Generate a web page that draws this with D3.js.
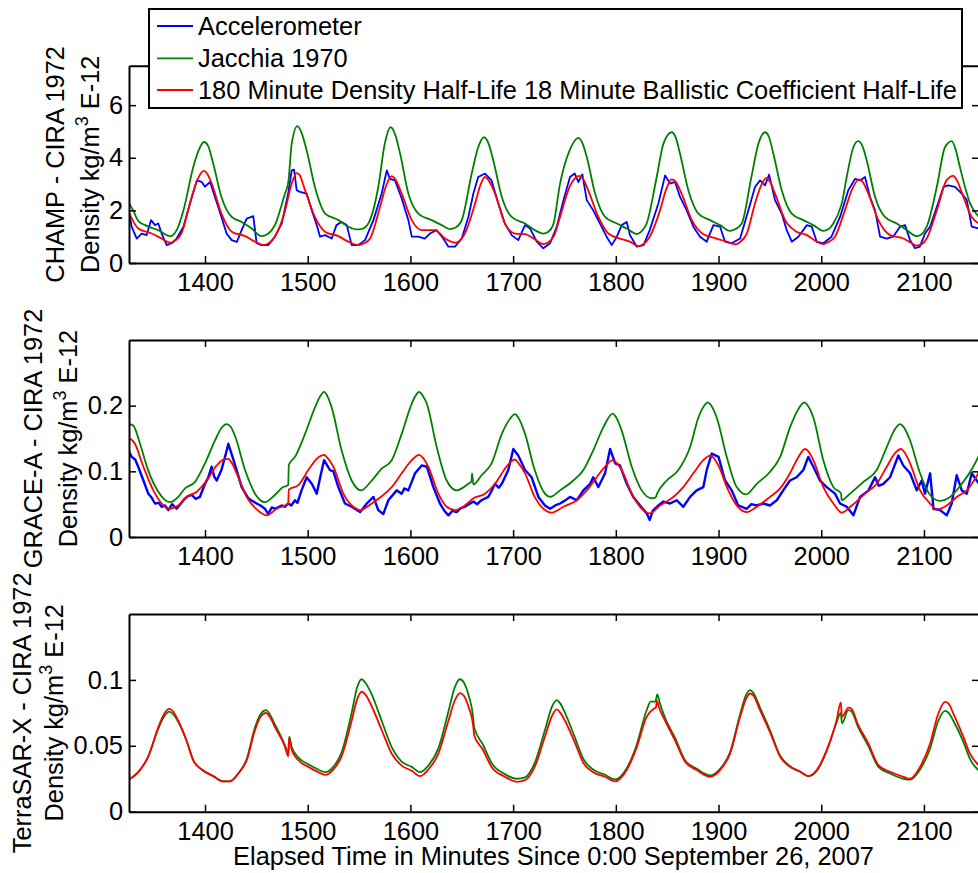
<!DOCTYPE html>
<html><head><meta charset="utf-8">
<script src="https://cdn.jsdelivr.net/npm/d3@7"></script>
<style>
html,body{margin:0;padding:0;background:#fff;}
svg{display:block;}
text{font-family:"Liberation Sans",Arial,Helvetica,sans-serif;fill:#000;}
</style></head>
<body><svg id="chart" width="978" height="873"></svg>
<script>
// ---------------- DATA ----------------
const xTicks = [1400,1500,1600,1700,1800,1900,2000,2100];
const seriesNames = ["Accelerometer","Jacchia 1970","180 Minute Density Half-Life 18 Minute Ballistic Coefficient Half-Life"];
const panelTitles = ["CHAMP - CIRA 1972","GRACE-A - CIRA 1972","TerraSAR-X - CIRA 1972"];
const yTicks1 = [0,2,4,6];
const yTicks2 = [0,0.1,0.2];
const yTicks3 = [0,0.05,0.1];
const yTickLabels1 = ["0","2","4","6"];
const yTickLabels2 = ["0","0.1","0.2"];
const yTickLabels3 = ["0","0.05","0.1"];
const xLabel = "Elapsed Time in Minutes Since 0:00 September 26, 2007";

const champAccel = [[1326,1.95],[1328.6,1.38],[1333.5,0.93],[1338.3,1.12],[1343.2,1.06],[1347.5,1.63],[1351.3,1.44],[1354.5,1.5],[1357.8,1.12],[1362.7,0.68],[1367.5,0.75],[1372.4,0.93],[1379,1.38],[1385.4,2.26],[1392,3.14],[1396.8,3.08],[1400,2.9],[1404.9,3.08],[1409.7,2.51],[1416,1.75],[1421,1.12],[1426,0.87],[1431,0.8],[1435.7,1.25],[1440.6,1.69],[1447,1.78],[1450.3,0.75],[1455,0.68],[1461.6,0.68],[1468,1.0],[1474.7,1.5],[1481,2.64],[1484.4,3.52],[1486.7,3.55],[1489.3,2.77],[1492.5,2.7],[1499,2.64],[1504,2.0],[1508.8,1.44],[1512,1.0],[1517,1.06],[1523.4,0.93],[1528,1.44],[1533,1.56],[1538,1.44],[1542.8,0.68],[1549,0.68],[1555.8,0.87],[1564,1.63],[1572,2.64],[1577,3.52],[1580,3.2],[1585,3.14],[1591.5,2.45],[1598,1.63],[1601.3,1.0],[1607.7,1.0],[1614,0.93],[1619,1.12],[1625.6,1.25],[1632,0.93],[1637,0.62],[1643.4,0.62],[1650,0.93],[1656.4,1.75],[1661.3,2.64],[1666,3.27],[1672.6,3.4],[1679,3.14],[1685.6,2.26],[1692,1.5],[1698.6,1.06],[1705,0.87],[1711.6,1.44],[1716.5,1.31],[1723,0.81],[1729.4,0.56],[1736,0.75],[1742.5,1.38],[1749,2.39],[1755.4,3.27],[1760,3.4],[1763.5,3.08],[1767.4,3.37],[1771.7,2.39],[1778,2.0],[1784.6,1.5],[1791,1.0],[1796,0.68],[1801,1.0],[1805.7,1.44],[1810.6,1.56],[1813.8,1.06],[1820.4,0.62],[1827,0.68],[1833,1.25],[1841.4,2.26],[1848,3.33],[1852.8,3.02],[1857.7,3.08],[1862.5,2.51],[1869,2.0],[1875.5,1.38],[1882,1.0],[1888.5,0.81],[1895,1.44],[1901.5,1.38],[1906.3,0.81],[1912.8,0.75],[1921,0.93],[1929,2.0],[1935.5,2.89],[1940.4,3.14],[1945.3,2.95],[1949.2,3.36],[1955,2.39],[1961.5,1.88],[1966.4,1.25],[1971.3,0.81],[1977.8,1.0],[1986,1.44],[1990.8,1.38],[1995.6,0.81],[2002,0.75],[2010,1.0],[2018.3,1.75],[2026.4,2.77],[2033,3.2],[2037.8,3.14],[2042.6,3.27],[2047.5,2.51],[2052.4,2.0],[2057.3,1.0],[2063.8,0.93],[2070,1.0],[2076.7,1.38],[2081.6,1.44],[2086.5,0.87],[2091.3,0.56],[2096,0.62],[2101,1.12],[2106,1.38],[2112.5,2.13],[2119,2.89],[2123.7,2.95],[2130.3,2.89],[2136.8,2.64],[2141.7,2.39],[2146.5,1.38],[2153.6,1.31]];

const champJ70 = [[1325,2.35],[1330,2.0],[1335,1.6],[1341.6,1.44],[1354.5,1.25],[1366,1.02],[1373,1.3],[1379,2.0],[1388.6,3.65],[1394,4.3],[1399,4.6],[1403,4.45],[1408,3.78],[1416,2.51],[1426,1.75],[1435.7,1.56],[1445.5,1.31],[1455,1.02],[1461,1.1],[1468,1.44],[1478,2.65],[1480.5,2.95],[1481.2,3.1],[1484.4,4.53],[1490,5.2],[1494,4.95],[1499,4.28],[1507,2.89],[1517,1.88],[1530,1.63],[1539.5,1.38],[1547.7,1.28],[1553,1.3],[1559,1.5],[1568.7,2.89],[1575,4.53],[1580.8,5.16],[1585,4.9],[1590,4.15],[1598,2.64],[1607.7,1.88],[1620.7,1.63],[1630.5,1.44],[1638.5,1.29],[1644,1.35],[1650,1.63],[1659.7,3.4],[1666,4.4],[1671.7,4.78],[1676,4.55],[1680.7,3.9],[1689,2.51],[1698.6,1.75],[1711.6,1.5],[1721,1.25],[1729.4,1.12],[1734,1.18],[1739,1.45],[1745.7,3.02],[1755,4.28],[1763.5,4.76],[1767,4.6],[1771.7,4.03],[1779.8,2.64],[1789.5,1.75],[1801,1.5],[1810.6,1.31],[1820.4,1.1],[1825,1.2],[1830,1.5],[1839.8,3.27],[1846.3,4.53],[1854.4,4.97],[1858,4.8],[1862.5,4.15],[1870.6,2.77],[1880.4,1.88],[1891.7,1.63],[1901.5,1.44],[1911,1.22],[1916,1.28],[1922.6,1.5],[1932,3.27],[1938.8,4.53],[1945.3,4.97],[1949,4.8],[1953.4,4.15],[1961.5,2.77],[1971.3,1.88],[1982.6,1.63],[1992.3,1.44],[2002,1.22],[2007,1.28],[2011.8,1.5],[2019.5,2.2],[2020.2,2.3],[2024.8,3.27],[2031.3,4.4],[2036,4.63],[2040,4.45],[2044.3,3.9],[2052.4,2.51],[2062,1.75],[2073.5,1.5],[2083.2,1.25],[2093,1.02],[2098,1.1],[2102.7,1.38],[2112.5,2.89],[2120.5,4.4],[2127,4.63],[2131,4.3],[2135,3.65],[2145,2.26],[2153.6,1.75]];

const champModel = [[1325,2.0],[1335,1.31],[1348,1.12],[1357.8,0.93],[1366,0.77],[1371,0.85],[1377,1.12],[1387,2.51],[1393,3.2],[1399,3.5],[1402,3.4],[1406.5,3.02],[1416,1.88],[1426,1.19],[1439,1.02],[1448.7,0.81],[1456.8,0.68],[1462,0.75],[1468,1.0],[1478,2.0],[1484.4,3.02],[1489.3,3.42],[1492,3.35],[1497.4,2.77],[1507,1.75],[1516.8,1.19],[1529.8,1.02],[1539.5,0.81],[1549.3,0.68],[1555,0.75],[1560.7,0.93],[1570.4,2.13],[1576,2.9],[1581.8,3.3],[1585,3.2],[1591.5,2.64],[1601.3,1.63],[1611,1.25],[1624,1.25],[1633.7,0.93],[1643.4,0.77],[1648,0.85],[1653,1.12],[1663,2.26],[1668,2.95],[1672.6,3.27],[1676,3.15],[1682.4,2.64],[1692,1.5],[1701.8,1.12],[1711.6,1.1],[1721,0.9],[1729.4,0.72],[1734,0.78],[1740,1.05],[1745.7,1.75],[1755,2.89],[1764.3,3.31],[1768,3.2],[1773,2.77],[1783,1.75],[1792.7,1.12],[1804,0.93],[1813.8,0.81],[1822,0.64],[1827,0.72],[1833,1.0],[1843,2.0],[1849,2.8],[1854.4,3.18],[1858,3.1],[1864,2.64],[1874,1.63],[1885,1.1],[1898,0.93],[1908,0.81],[1916,0.71],[1921,0.8],[1927.5,1.12],[1935.5,2.26],[1941,2.9],[1946.3,3.23],[1950,3.1],[1955,2.64],[1964.8,1.63],[1976,1.19],[1986,1.06],[1995.6,0.81],[2002,0.72],[2007,0.8],[2013.4,1.0],[2023,2.0],[2030,2.8],[2037,3.18],[2040,3.1],[2045.8,2.64],[2055.6,1.63],[2067,1.06],[2080,0.93],[2088,0.75],[2093,0.66],[2098,0.72],[2102.7,0.93],[2112.5,2.0],[2122,3.14],[2128.6,3.31],[2132,3.15],[2138.4,2.51],[2146.5,1.75],[2153.6,1.5]];

const graceAccel = [[1326,0.13],[1328.6,0.122],[1332,0.118],[1335,0.107],[1340,0.086],[1344.8,0.066],[1348,0.06],[1351.3,0.051],[1355,0.052],[1357.8,0.046],[1361,0.048],[1364.3,0.041],[1368,0.05],[1372.4,0.043],[1379,0.056],[1383,0.062],[1387,0.064],[1391,0.058],[1395,0.061],[1400,0.081],[1403,0.09],[1406.5,0.107],[1409,0.092],[1411.4,0.086],[1416,0.102],[1420,0.125],[1422.7,0.142],[1426,0.126],[1430.8,0.102],[1435.7,0.076],[1442.2,0.059],[1446,0.055],[1450.3,0.051],[1454,0.048],[1458.4,0.043],[1461.6,0.035],[1465,0.045],[1468,0.043],[1474.7,0.048],[1478,0.046],[1481,0.051],[1484,0.048],[1487.6,0.056],[1490,0.052],[1494,0.071],[1499,0.091],[1504,0.081],[1508.8,0.066],[1512,0.09],[1515.9,0.117],[1521.7,0.102],[1525,0.1],[1529.8,0.076],[1536.3,0.051],[1542.8,0.046],[1547,0.042],[1551,0.038],[1557.5,0.051],[1564,0.061],[1568.7,0.041],[1573.6,0.035],[1578.5,0.056],[1586.6,0.071],[1591.5,0.066],[1594,0.074],[1598,0.071],[1604.5,0.097],[1611,0.109],[1616,0.107],[1622.3,0.076],[1628.8,0.051],[1633,0.04],[1637,0.033],[1641,0.04],[1645,0.038],[1649,0.044],[1653,0.046],[1657,0.05],[1661.3,0.054],[1665,0.05],[1669.2,0.056],[1675.8,0.061],[1679,0.07],[1682.4,0.081],[1686,0.075],[1689,0.081],[1695.3,0.102],[1700.2,0.134],[1705,0.124],[1711.6,0.102],[1718,0.091],[1724.6,0.061],[1731,0.048],[1736,0.043],[1741,0.048],[1745.7,0.051],[1750,0.055],[1755.4,0.061],[1762,0.056],[1768.4,0.071],[1775,0.081],[1778,0.091],[1783,0.076],[1789.5,0.097],[1794.4,0.134],[1799.4,0.112],[1804,0.109],[1810.6,0.081],[1817,0.061],[1823.6,0.048],[1830,0.036],[1833,0.026],[1836,0.04],[1840,0.046],[1846.3,0.054],[1852.8,0.051],[1859.3,0.056],[1865.7,0.046],[1872.3,0.061],[1878.7,0.071],[1885.2,0.076],[1888.5,0.102],[1893.4,0.127],[1900,0.122],[1906.3,0.086],[1912.8,0.071],[1919.2,0.048],[1927.5,0.043],[1932,0.05],[1937.2,0.048],[1943.6,0.051],[1950,0.048],[1956.7,0.056],[1963,0.071],[1969.6,0.086],[1976,0.091],[1982.6,0.102],[1987.4,0.122],[1992.3,0.107],[1998.8,0.086],[2005.3,0.076],[2013.4,0.066],[2018.3,0.051],[2024.8,0.046],[2031.3,0.033],[2037.8,0.061],[2046,0.071],[2052.4,0.091],[2056,0.078],[2060.5,0.081],[2067,0.091],[2075,0.124],[2079.9,0.109],[2086.5,0.097],[2093,0.071],[2097.8,0.086],[2101,0.066],[2106,0.097],[2109.3,0.043],[2115.7,0.041],[2122.2,0.033],[2127,0.051],[2131.9,0.094],[2136.8,0.071],[2141.7,0.066],[2146.5,0.097],[2153.6,0.081]];

const graceJ70 = [[1325,0.172],[1330,0.17],[1336.7,0.142],[1344.8,0.101],[1354.5,0.069],[1366,0.053],[1374,0.061],[1380.5,0.074],[1390.3,0.084],[1400,0.112],[1409.7,0.147],[1416,0.166],[1421,0.172],[1425,0.168],[1429,0.155],[1439,0.102],[1448.7,0.066],[1458.4,0.053],[1468,0.064],[1476,0.076],[1481,0.079],[1481.6,0.11],[1487.6,0.122],[1497.4,0.157],[1507,0.197],[1512,0.214],[1515.9,0.221],[1519,0.215],[1523.4,0.197],[1533,0.132],[1542.8,0.086],[1552,0.071],[1562.3,0.086],[1572,0.104],[1581.8,0.117],[1591.5,0.157],[1601.3,0.203],[1605,0.215],[1608.4,0.221],[1612,0.215],[1616,0.203],[1625.6,0.137],[1635.3,0.086],[1645,0.071],[1656.4,0.081],[1659.5,0.085],[1660,0.097],[1661.3,0.08],[1669.2,0.094],[1679,0.112],[1689,0.157],[1697,0.18],[1701.8,0.187],[1705,0.182],[1711.6,0.157],[1721,0.102],[1731,0.066],[1736,0.061],[1745.7,0.071],[1758.6,0.086],[1768.4,0.102],[1778,0.132],[1787.8,0.167],[1797,0.188],[1800,0.183],[1805.7,0.162],[1815.5,0.107],[1825.2,0.071],[1835,0.059],[1838.5,0.06],[1840.4,0.067],[1849.6,0.086],[1860.9,0.102],[1872.3,0.137],[1880.4,0.182],[1886,0.2],[1889.5,0.205],[1893,0.2],[1898.2,0.182],[1908,0.122],[1917.7,0.076],[1926.8,0.065],[1937.2,0.081],[1950,0.099],[1960,0.122],[1969.6,0.167],[1979,0.198],[1983.5,0.205],[1987,0.2],[1992.3,0.182],[2002,0.117],[2011.8,0.076],[2019.3,0.066],[2019.9,0.056],[2028,0.066],[2041,0.084],[2054,0.102],[2063.8,0.137],[2072,0.165],[2076.7,0.172],[2080,0.168],[2086.5,0.147],[2096.2,0.097],[2106,0.064],[2115.7,0.055],[2125.4,0.061],[2138.4,0.084],[2148,0.107],[2153.6,0.124]];

const graceModel = [[1325,0.152],[1331.8,0.142],[1340,0.107],[1349.7,0.071],[1357.8,0.051],[1364.3,0.043],[1374,0.048],[1382,0.061],[1392,0.069],[1401.6,0.086],[1411.4,0.109],[1418,0.118],[1422.7,0.119],[1426,0.113],[1430.8,0.097],[1440.6,0.061],[1450.3,0.042],[1460,0.033],[1469.8,0.043],[1481,0.051],[1481.6,0.072],[1490.9,0.079],[1500.6,0.102],[1508.8,0.119],[1515.9,0.125],[1519,0.121],[1525,0.107],[1534.7,0.066],[1544.4,0.046],[1551,0.041],[1562.3,0.051],[1572,0.062],[1581.8,0.076],[1591.5,0.097],[1601.3,0.117],[1608.4,0.125],[1612,0.121],[1617.4,0.107],[1627.2,0.066],[1635.3,0.046],[1643.4,0.041],[1653,0.048],[1661.3,0.059],[1672.6,0.066],[1682.4,0.081],[1692,0.104],[1698,0.115],[1701.8,0.118],[1705,0.113],[1711.6,0.097],[1721,0.061],[1731,0.041],[1737,0.037],[1749,0.046],[1762,0.056],[1771.7,0.071],[1781.4,0.091],[1789.5,0.107],[1797,0.117],[1800,0.114],[1805.7,0.102],[1815.5,0.066],[1823.6,0.046],[1833,0.036],[1843,0.048],[1856,0.061],[1865.7,0.076],[1875.5,0.097],[1885.2,0.117],[1891.7,0.124],[1895,0.121],[1899.8,0.109],[1909.5,0.071],[1917.7,0.048],[1927.5,0.038],[1937.2,0.046],[1950,0.061],[1960,0.074],[1969.6,0.097],[1977.8,0.122],[1984.2,0.134],[1987,0.131],[1992.3,0.117],[2002,0.076],[2011.8,0.051],[2020,0.037],[2029.7,0.048],[2042.6,0.066],[2054,0.081],[2063.8,0.107],[2072,0.128],[2077.7,0.134],[2081,0.129],[2086.5,0.112],[2096.2,0.071],[2106,0.051],[2112.5,0.042],[2122.2,0.048],[2131.9,0.061],[2141.7,0.071],[2153.6,0.099]];

const terraJ70 = [[1325,0.024],[1335,0.030],[1344.8,0.042],[1354.5,0.063],[1360,0.072],[1365.2,0.076],[1369,0.074],[1374,0.068],[1382,0.054],[1388.6,0.039],[1396.8,0.032],[1408,0.027],[1417.8,0.023],[1424,0.023],[1432.4,0.029],[1440.6,0.040],[1448.7,0.064],[1454,0.074],[1459.4,0.077],[1463,0.074],[1468.2,0.066],[1478,0.050],[1481,0.044],[1482,0.057],[1484.4,0.049],[1490.9,0.041],[1500.6,0.036],[1510.3,0.032],[1517,0.030],[1524.9,0.034],[1533,0.045],[1542.8,0.075],[1548,0.094],[1552.5,0.1005],[1556,0.098],[1562.3,0.089],[1572,0.069],[1581.8,0.049],[1591.5,0.038],[1601.3,0.034],[1609.4,0.030],[1617.4,0.035],[1627.2,0.048],[1637,0.076],[1643,0.094],[1648.3,0.1005],[1652,0.098],[1656.4,0.089],[1661.3,0.070],[1662,0.064],[1670.6,0.051],[1679,0.037],[1692,0.0285],[1703.4,0.025],[1711.6,0.026],[1721,0.037],[1731,0.062],[1738,0.080],[1742.5,0.0846],[1746,0.082],[1750.5,0.075],[1760.3,0.056],[1768.4,0.040],[1778,0.032],[1789.5,0.028],[1799.2,0.0245],[1810.6,0.033],[1820.4,0.051],[1830,0.077],[1834,0.0835],[1838.5,0.0835],[1840.4,0.089],[1843,0.082],[1848,0.071],[1857.7,0.056],[1867.4,0.039],[1878.8,0.0325],[1891.7,0.0275],[1901.5,0.0325],[1911.2,0.045],[1921,0.074],[1927,0.089],[1930.7,0.0922],[1934,0.090],[1940.4,0.079],[1950,0.062],[1960,0.0425],[1969.6,0.0345],[1979.4,0.0305],[1987.4,0.027],[1995.6,0.031],[2005.3,0.046],[2015,0.068],[2019,0.075],[2020.2,0.067],[2026.4,0.077],[2029,0.0765],[2036,0.064],[2045.8,0.050],[2055.6,0.034],[2067,0.029],[2080,0.025],[2086.5,0.0243],[2096.2,0.032],[2106,0.048],[2114,0.069],[2120.5,0.0765],[2124,0.075],[2128.6,0.069],[2138.4,0.053],[2144.8,0.040],[2153.6,0.031]];

const terraModel = [[1325,0.024],[1335,0.030],[1344.8,0.042],[1354.5,0.064],[1360,0.074],[1365.2,0.078],[1369,0.076],[1374,0.069],[1382,0.054],[1388.6,0.039],[1396.8,0.032],[1408,0.027],[1417.8,0.023],[1424,0.023],[1432.4,0.029],[1440.6,0.039],[1448.7,0.062],[1454,0.072],[1459.4,0.075],[1463,0.072],[1468.2,0.064],[1478,0.049],[1481,0.042],[1482,0.056],[1484.4,0.047],[1490.9,0.039],[1500.6,0.034],[1510.3,0.030],[1517,0.028],[1524.9,0.032],[1533,0.042],[1542.8,0.069],[1548,0.085],[1552.5,0.091],[1556,0.089],[1562.3,0.080],[1572,0.062],[1581.8,0.044],[1591.5,0.035],[1601.3,0.031],[1609.4,0.027],[1617.4,0.032],[1627.2,0.044],[1637,0.069],[1643,0.084],[1648.3,0.090],[1652,0.088],[1656.4,0.080],[1661.3,0.064],[1662,0.058],[1670.6,0.047],[1679,0.034],[1692,0.0265],[1703.4,0.0227],[1711.6,0.024],[1721,0.034],[1731,0.057],[1738,0.073],[1742.5,0.0776],[1746,0.075],[1750.5,0.069],[1760.3,0.052],[1768.4,0.037],[1778,0.030],[1789.5,0.0265],[1799.2,0.023],[1810.6,0.0316],[1820.4,0.049],[1830,0.072],[1836.6,0.078],[1839,0.079],[1840,0.084],[1842,0.079],[1848,0.069],[1857.7,0.054],[1867.4,0.038],[1878.8,0.0316],[1891.7,0.0265],[1901.5,0.0316],[1911.2,0.044],[1921,0.072],[1927,0.086],[1930.7,0.0897],[1934,0.088],[1940.4,0.077],[1950,0.0606],[1960,0.0417],[1969.6,0.034],[1979.4,0.0303],[1987.4,0.027],[1995.6,0.0316],[2005.3,0.0467],[2015,0.0695],[2019,0.083],[2020.2,0.072],[2026.4,0.079],[2029,0.0785],[2036,0.0657],[2045.8,0.0518],[2055.6,0.0354],[2067,0.0303],[2080,0.0265],[2086.5,0.025],[2096.2,0.034],[2106,0.0518],[2114,0.0745],[2120.5,0.0833],[2124,0.082],[2128.6,0.0745],[2138.4,0.0568],[2144.8,0.044],[2153.6,0.035]];

// ---------------- LAYOUT ----------------
const colors = {accel:"#0000ff", j70:"#008000", model:"#ff0000"};
const FONT = 25.4;
const xLeft = 129, xRight = 979;
const panels = [
  {top:65.7, bottom:263, ymax:7.5, ticks:yTicks1, labels:yTickLabels1, title:panelTitles[0], lx1:64, lx2:99, aw:1.8,
   series:[{d:champAccel,c:colors.accel,curve:d3.curveLinear},{d:champJ70,c:colors.j70,curve:d3.curveMonotoneX},{d:champModel,c:colors.model,curve:d3.curveMonotoneX}]},
  {top:340, bottom:537, ymax:0.3, ticks:yTicks2, labels:yTickLabels2, title:panelTitles[1], lx1:42, lx2:77, aw:2.4,
   series:[{d:graceAccel,c:colors.accel,curve:d3.curveLinear},{d:graceJ70,c:colors.j70,curve:d3.curveMonotoneX},{d:graceModel,c:colors.model,curve:d3.curveMonotoneX}]},
  {top:614, bottom:811.7, ymax:0.15, ticks:yTicks3, labels:yTickLabels3, title:panelTitles[2], lx1:31, lx2:63, aw:1.8,
   series:[{d:terraJ70,c:colors.j70,curve:d3.curveMonotoneX},{d:terraModel,c:colors.model,curve:d3.curveMonotoneX}]}
];

const svg = d3.select("#chart");
const x = d3.scaleLinear().domain([1326, 2153.6]).range([xLeft, xRight]);

panels.forEach((p, i) => {
  const y = d3.scaleLinear().domain([0, p.ymax]).range([p.bottom, p.top]);
  const g = svg.append("g");
  const clipId = "clip" + i;
  svg.append("defs").append("clipPath").attr("id", clipId)
    .append("rect").attr("x", xLeft).attr("y", p.top).attr("width", xRight - xLeft).attr("height", p.bottom - p.top);

  const lines = g.append("g").attr("clip-path", `url(#${clipId})`);
  p.series.forEach(s => {
    const line = d3.line().x(d => x(d[0])).y(d => y(d[1])).curve(s.curve);
    lines.append("path").datum(s.d).attr("d", line)
      .attr("fill", "none").attr("stroke", s.c)
      .attr("stroke-width", s.c === colors.accel ? p.aw : 1.8)
      .attr("stroke-linejoin", "round");
  });

  // axes (MATLAB style: inward ticks on all sides)
  const ax = g.append("g");
  ax.append("g").attr("transform", `translate(0,${p.bottom})`)
    .call(d3.axisBottom(x).tickValues(xTicks).tickFormat(d3.format("d")).tickSizeInner(-7).tickSizeOuter(0).tickPadding(10));
  ax.append("g").attr("transform", `translate(0,${p.top})`)
    .call(d3.axisTop(x).tickValues(xTicks).tickFormat("").tickSizeInner(-7).tickSizeOuter(0));
  ax.append("g").attr("transform", `translate(${xLeft},0)`)
    .call(d3.axisLeft(y).tickValues(p.ticks).tickFormat((d, k) => p.labels[k]).tickSizeInner(-7).tickSizeOuter(0).tickPadding(6));
  ax.append("g").attr("transform", `translate(${xRight},0)`)
    .call(d3.axisRight(y).tickValues(p.ticks).tickFormat("").tickSizeInner(-7).tickSizeOuter(0));
  ax.selectAll(".domain").attr("stroke", "#000").attr("stroke-width", 2);
  ax.selectAll(".tick line").attr("stroke", "#000").attr("stroke-width", 1.5);
  ax.selectAll("text").attr("font-size", FONT).attr("font-family", '"Liberation Sans",Arial,sans-serif').attr("fill", "#000");

  // y labels (two lines, rotated)
  const yc = (p.top + p.bottom) / 2;
  g.append("text").attr("transform", `translate(${p.lx1},${yc}) rotate(-90)`)
    .attr("text-anchor", "middle").attr("font-size", FONT).text(p.title);
  const t2 = g.append("text").attr("transform", `translate(${p.lx2},${yc}) rotate(-90)`)
    .attr("text-anchor", "middle").attr("font-size", FONT);
  t2.append("tspan").text("Density kg/m");
  t2.append("tspan").attr("dy", -11).attr("font-size", 18).text("3");
  t2.append("tspan").attr("dy", 11).text(" E-12");
});

// x label
svg.append("text").attr("x", (xLeft + 978) / 2).attr("y", 865).attr("text-anchor", "middle")
  .attr("font-size", FONT).text(xLabel);

// legend
const leg = svg.append("g");
leg.append("rect").attr("x", 149).attr("y", 9).attr("width", 813).attr("height", 99)
  .attr("fill", "#fff").attr("stroke", "#000").attr("stroke-width", 2);
const legColors = [colors.accel, colors.j70, colors.model];
const legY = [26, 58.3, 90];
seriesNames.forEach((n, k) => {
  leg.append("line").attr("x1", 157).attr("x2", 193).attr("y1", legY[k]).attr("y2", legY[k])
    .attr("stroke", legColors[k]).attr("stroke-width", 1.8);
  leg.append("text").attr("x", 198).attr("y", legY[k] + 9).attr("font-size", FONT).text(n);
});
</script></body></html>
